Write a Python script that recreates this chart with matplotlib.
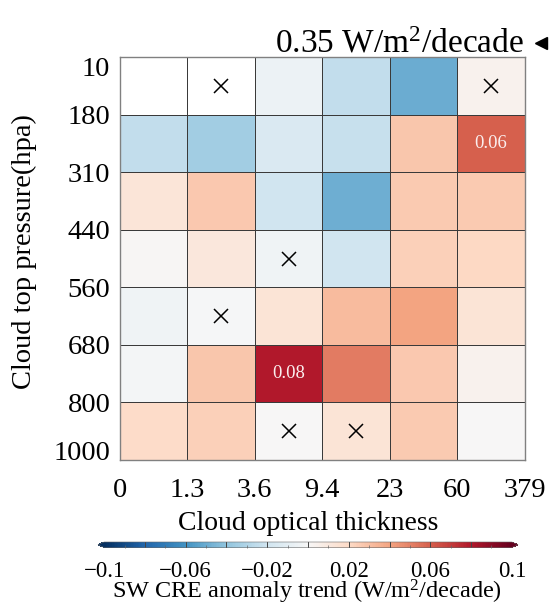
import numpy as np
import matplotlib.pyplot as plt
from matplotlib.lines import Line2D

plt.rcParams['font.family'] = ['Liberation Serif', 'DejaVu Serif']
plt.rcParams['mathtext.default'] = 'regular'

tau_edges = ['0', '1.3', '3.6', '9.4', '23', '60', '379']
ctp_edges = ['10', '180', '310', '440', '560', '680', '800', '1000']

# SW CRE anomaly trend (W/m2/decade), rows from 10 hPa down to 1000 hPa
trend = np.array([
    [np.nan, np.nan, -0.006, -0.025, -0.050, 0.004],
    [-0.025, -0.035, -0.015, -0.023, 0.028, 0.060],
    [0.013, 0.027, -0.020, -0.049, 0.026, 0.026],
    [0.001, 0.011, -0.004, -0.020, 0.024, 0.021],
    [-0.004, -0.001, 0.014, 0.032, 0.040, 0.014],
    [-0.002, 0.028, 0.080, 0.052, 0.027, 0.004],
    [0.019, 0.024, 0.000, 0.014, 0.026, 0.000],
])

# bins whose trend is not significant
not_sig = np.array([
    [0, 1, 0, 0, 0, 1],
    [0, 0, 0, 0, 0, 0],
    [0, 0, 0, 0, 0, 0],
    [0, 0, 1, 0, 0, 0],
    [0, 1, 0, 0, 0, 0],
    [0, 0, 0, 0, 0, 0],
    [0, 0, 1, 1, 0, 0],
], dtype=bool)

total_trend = 0.35
cbar_ticks = [-0.1, -0.06, -0.02, 0.02, 0.06, 0.1]

W, H = 549, 605
fig = plt.figure(figsize=(W / 100, H / 100), dpi=100)
ax = fig.add_axes([120 / W, 1 - 460 / H, 404.5 / W, 402.7 / H])

cmap = plt.get_cmap('RdBu_r').copy()
cmap.set_bad('white')
nrow, ncol = trend.shape
mesh = ax.pcolormesh(np.arange(ncol + 1), np.arange(nrow + 1),
                     np.ma.masked_invalid(trend), cmap=cmap, vmin=-0.1, vmax=0.1,
                     edgecolors='#3a3a3a', linewidth=0.5)
ax.set_xlim(0, ncol)
ax.set_ylim(nrow, 0)

rr, cc = np.nonzero(not_sig)
ax.plot(cc + 0.5, rr + 0.5, 'x', color='k', ms=10.5, mew=1.1, ls='none')

for r in range(nrow):
    for c in range(ncol):
        v = trend[r, c]
        if np.isfinite(v) and abs(v) >= 0.06:
            ax.text(c + 0.5, r + 0.5, f'{v:.2f}', ha='center', va='center',
                    fontsize=13.5, color='#fbeeee')

ax.set_xticks(np.arange(ncol + 1))
ax.set_xticklabels(tau_edges)
ax.set_yticks(np.arange(nrow + 1))
ax.set_yticklabels(ctp_edges)
ax.tick_params(axis='x', length=0, pad=13, labelsize=20.5)
ax.tick_params(axis='y', length=0, pad=7, labelsize=20.5)
ylabs = ax.get_yticklabels()
ylabs[0].set_va('top')
ylabs[-1].set_va('baseline')
for s in ax.spines.values():
    s.set_color('#808080')
    s.set_linewidth(1.0)

fig.text(308 / W, 1 - 530 / H, 'Cloud optical thickness', ha='center',
         va='baseline', fontsize=20)
fig.text(24 / W, 1 - 252 / H, 'Cloud top pressure(hpa)', ha='center',
         va='center', rotation=90, fontsize=20.5)

fig.text(524 / W, 1 - 52.3 / H, f'{total_trend:.2f} W/m$^2$/decade',
         ha='right', va='baseline', fontsize=24)
fig.add_artist(Line2D([541 / W], [1 - 43 / H], marker='<', ms=8.5, color='k',
                      transform=fig.transFigure))

# colorbar with 0.02 dividers and small 0.01 ticks
cax = fig.add_axes([98 / W, 1 - 547.5 / H, 420 / W, 5.5 / H])
cb = fig.colorbar(mesh, cax=cax, orientation='horizontal', extend='both',
                  ticks=cbar_ticks, extendfrac=0.015)
cb.outline.set_linewidth(0.4)
cb.outline.set_edgecolor('#666666')
for v in np.arange(-0.08, 0.081, 0.02):
    cax.axvline(v, color='#444444', lw=0.7)
cax.set_xticks(np.arange(-0.09, 0.091, 0.02), minor=True)
cax.tick_params(axis='x', which='major', length=0, pad=10, labelsize=16.5)
cax.tick_params(axis='x', which='minor', direction='in', length=2,
                width=0.5, color='#666666')
cax.set_xticklabels(['\u22120.1', '\u22120.06', '\u22120.02', '0.02', '0.06', '0.1'])
fig.text(306.5 / W, 1 - 599 / H, 'SW CRE anomaly trend (W/m$^2$/decade)',
         ha='center', va='baseline', fontsize=17.5)

fig.savefig('out.png', dpi=100)
